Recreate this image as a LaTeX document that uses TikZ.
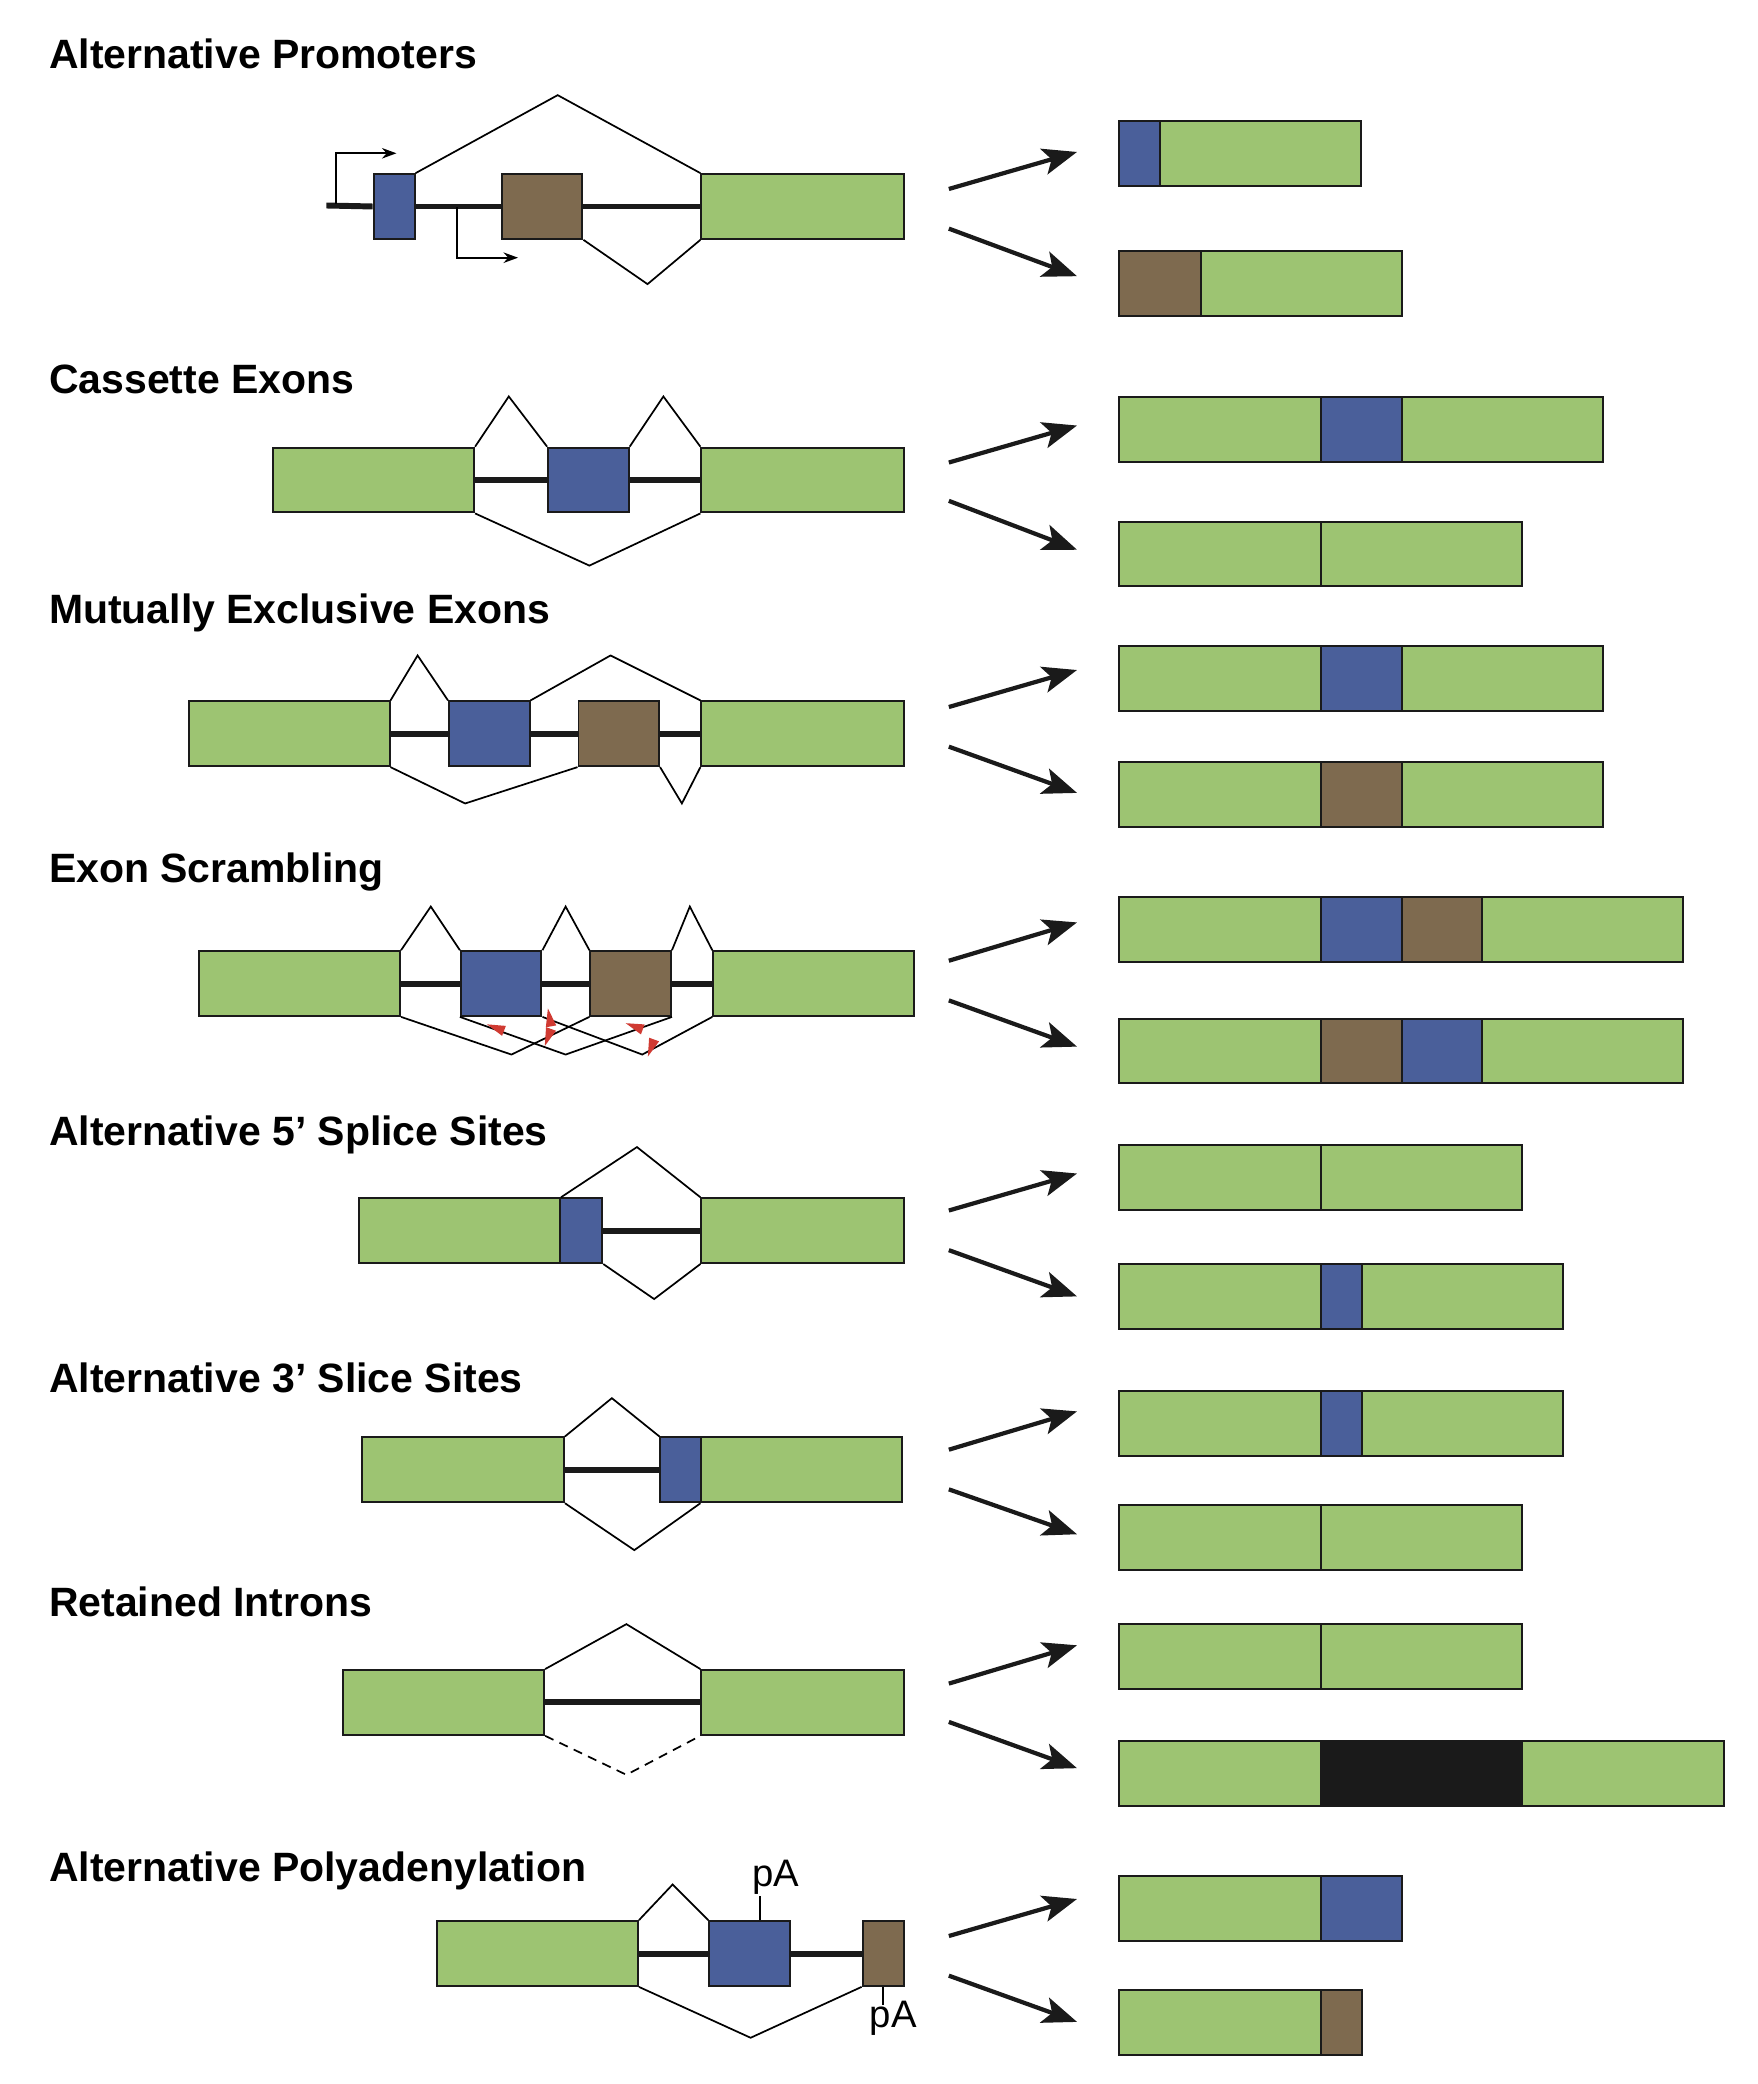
\documentclass[tikz,border=0pt]{standalone}
\usepackage{fontspec}
\setmainfont{Liberation Sans}
\usetikzlibrary{arrows.meta}
\definecolor{exgreen}{HTML}{9DC472}
\definecolor{exblue}{HTML}{4A5F9A}
\definecolor{exbrown}{HTML}{7E6A4F}
\definecolor{exblack}{HTML}{1A1A1A}
\definecolor{tipred}{HTML}{D03A32}
\tikzset{
  exon/.style={draw=exblack, line width=1.5pt, inner sep=0pt, minimum height=49pt, anchor=north west},
  intron/.style={exblack, line width=4.5pt},
  splice/.style={black, line width=1.3pt, line join=miter},
  title/.style={font=\bfseries\fontsize{31}{33}\selectfont, anchor=base west, inner sep=0pt},
  fork/.style={exblack, line width=3.2pt, -{Stealth[length=26pt,width=20pt,inset=6pt]}},
  start/.style={black, line width=1.3pt, -{Stealth[length=11pt,width=8pt]}},
  tip/.pic={\fill[tipred] (0:8) -- (145:7) -- (215:7) -- cycle;}
}
% exon box: name, left x, right x, top y, colour
\newcommand{\ex}[5]{\node[exon, fill=#5, minimum width={(#3-#2)*1pt}] (#1) at (#2,#4) {};}
% two product arrows: top y start, top y end, bottom y start, bottom y end
\newcommand{\forks}[5]{%
  \coordinate (#1a0) at (718,#2); \coordinate (#1a1) at (815,#3);
  \coordinate (#1b0) at (718,#4); \coordinate (#1b1) at (815,#5);
  \draw[fork] (#1a0) -- (#1a1);
  \draw[fork] (#1b0) -- (#1b1);}
\begin{document}
\begin{tikzpicture}[x=1pt,y=-1pt]
\useasboundingbox (0,0) rectangle (1330,1577);

% Alternative Promoters
\node[title] (t1) at (37,52) {Alternative Promoters};
\ex{p1a}{282}{313}{131}{exblue}
\ex{p1b}{379}{440}{131}{exbrown}
\ex{p1c}{530}{683}{131}{exgreen}
\coordinate (p1s) at (247,155.5);
\draw[intron] (p1s) -- (p1a.west);
\draw[intron] (p1a.east) -- (p1b.west);
\draw[intron] (p1b.east) -- (p1c.west);
\draw[splice] (p1a.north east) -- (422,72) -- (p1c.north west);
\draw[splice] (p1b.south east) -- (490,215) -- (p1c.south west);
\coordinate (pr1) at (254,154); \coordinate (pr2) at (346,157);
\draw[start] (pr1) -- (254,116) -- (300,116);
\draw[start] (pr2) -- (346,195) -- (392,195);
\forks{f1}{143}{115}{173}{209}
\ex{q1a}{846}{877}{91}{exblue}
\ex{q1b}{877}{1029}{91}{exgreen}
\ex{q1c}{846}{908}{189}{exbrown}
\ex{q1d}{908}{1060}{189}{exgreen}

% Cassette Exons
\node[title] (t2) at (37,298) {Cassette Exons};
\ex{p2a}{206}{358}{338}{exgreen}
\ex{p2b}{414}{475}{338}{exblue}
\ex{p2c}{530}{683}{338}{exgreen}
\draw[intron] (p2a.east) -- (p2b.west);
\draw[intron] (p2b.east) -- (p2c.west);
\draw[splice] (p2a.north east) -- (385,300) -- (p2b.north west);
\draw[splice] (p2b.north east) -- (502,300) -- (p2c.north west);
\draw[splice] (p2a.south east) -- (446,428) -- (p2c.south west);
\forks{f2}{350}{322}{379}{416}
\ex{q2a}{846}{999}{300}{exgreen}
\ex{q2b}{999}{1060}{300}{exblue}
\ex{q2c}{1060}{1212}{300}{exgreen}
\ex{q2d}{846}{999}{394}{exgreen}
\ex{q2e}{999}{1151}{394}{exgreen}

% Mutually Exclusive Exons
\node[title] (t3) at (37,472) {Mutually Exclusive Exons};
\ex{p3a}{142}{294}{530}{exgreen}
\ex{p3b}{339}{400}{530}{exblue}
\ex{p3c}{437}{498}{530}{exbrown}
\ex{p3d}{530}{683}{530}{exgreen}
\draw[intron] (p3a.east) -- (p3b.west);
\draw[intron] (p3b.east) -- (p3c.west);
\draw[intron] (p3c.east) -- (p3d.west);
\draw[splice] (p3a.north east) -- (316,496) -- (p3b.north west);
\draw[splice] (p3b.north east) -- (462,496) -- (p3d.north west);
\draw[splice] (p3a.south east) -- (352,608) -- (p3c.south west);
\draw[splice] (p3c.south east) -- (516,608) -- (p3d.south west);
\forks{f3}{535}{507}{565}{600}
\ex{q3a}{846}{999}{488}{exgreen}
\ex{q3b}{999}{1060}{488}{exblue}
\ex{q3c}{1060}{1212}{488}{exgreen}
\ex{q3d}{846}{999}{576}{exgreen}
\ex{q3e}{999}{1060}{576}{exbrown}
\ex{q3f}{1060}{1212}{576}{exgreen}

% Exon Scrambling
\node[title] (t4) at (37,668) {Exon Scrambling};
\ex{p4a}{150}{302}{719}{exgreen}
\ex{p4b}{348}{409}{719}{exblue}
\ex{p4c}{446}{507}{719}{exbrown}
\ex{p4d}{539}{691}{719}{exgreen}
\draw[intron] (p4a.east) -- (p4b.west);
\draw[intron] (p4b.east) -- (p4c.west);
\draw[intron] (p4c.east) -- (p4d.west);
\draw[splice] (p4a.north east) -- (326,686) -- (p4b.north west);
\draw[splice] (p4b.north east) -- (428,686) -- (p4c.north west);
\draw[splice] (p4c.north east) -- (522,686) -- (p4d.north west);
\draw[splice] (p4a.south east) -- (387,798) -- (p4c.south west);
\draw[splice] (p4b.south west) -- (428,798) -- (p4c.south east);
\draw[splice] (p4b.south east) -- (486,798) -- (p4d.south west);
\pic[rotate=159] at (376,778) {tip};
\pic[rotate=100] at (416,771) {tip};
\pic[rotate=250] at (415,784) {tip};
\pic[rotate=160] at (481,777) {tip};
\pic[rotate=250] at (493,792) {tip};
\forks{f4}{727}{698}{757}{792}
\ex{q4a}{846}{999}{678}{exgreen}
\ex{q4b}{999}{1060}{678}{exblue}
\ex{q4c}{1060}{1121}{678}{exbrown}
\ex{q4d}{1121}{1273}{678}{exgreen}
\ex{q4e}{846}{999}{770}{exgreen}
\ex{q4f}{999}{1060}{770}{exbrown}
\ex{q4g}{1060}{1121}{770}{exblue}
\ex{q4h}{1121}{1273}{770}{exgreen}

% Alternative 5' Splice Sites
\node[title] (t5) at (37,867) {Alternative 5’ Splice Sites};
\ex{p5a}{271}{423}{906}{exgreen}
\ex{p5b}{423}{455}{906}{exblue}
\ex{p5c}{530}{683}{906}{exgreen}
\draw[intron] (p5b.east) -- (p5c.west);
\draw[splice] (p5a.north east) -- (482,868) -- (p5c.north west);
\draw[splice] (p5b.south east) -- (495,983) -- (p5c.south west);
\forks{f5}{916}{888}{946}{981}
\ex{q5a}{846}{999}{866}{exgreen}
\ex{q5b}{999}{1151}{866}{exgreen}
\ex{q5c}{846}{999}{956}{exgreen}
\ex{q5d}{999}{1030}{956}{exblue}
\ex{q5e}{1030}{1182}{956}{exgreen}

% Alternative 3' Slice Sites
\node[title] (t6) at (37,1054) {Alternative 3’ Slice Sites};
\ex{p6a}{273}{426}{1087}{exgreen}
\ex{p6b}{499}{530}{1087}{exblue}
\ex{p6c}{530}{682}{1087}{exgreen}
\draw[intron] (p6a.east) -- (p6b.west);
\draw[splice] (p6a.north east) -- (463,1058) -- (p6b.north west);
\draw[splice] (p6a.south east) -- (480,1173) -- (p6c.south west);
\forks{f6}{1097}{1068}{1127}{1161}
\ex{q6a}{846}{999}{1052}{exgreen}
\ex{q6b}{999}{1030}{1052}{exblue}
\ex{q6c}{1030}{1182}{1052}{exgreen}
\ex{q6d}{846}{999}{1138}{exgreen}
\ex{q6e}{999}{1151}{1138}{exgreen}

% Retained Introns
\node[title] (t7) at (37,1223) {Retained Introns};
\ex{p7a}{259}{411}{1263}{exgreen}
\ex{p7b}{530}{683}{1263}{exgreen}
\draw[intron] (p7a.east) -- (p7b.west);
\draw[splice] (p7a.north east) -- (474,1229) -- (p7b.north west);
\draw[splice, dashed, dash pattern=on 7pt off 5pt] (p7a.south east) -- (474,1343) -- (p7b.south west);
\forks{f7}{1274}{1245}{1303}{1338}
\ex{q7a}{846}{999}{1228}{exgreen}
\ex{q7b}{999}{1151}{1228}{exgreen}
\ex{q7c}{846}{999}{1317}{exgreen}
\ex{q7d}{999}{1151}{1317}{exblack}
\ex{q7e}{1151}{1304}{1317}{exgreen}

% Alternative Polyadenylation
\node[title] (t8) at (37,1424) {Alternative Polyadenylation};
\ex{p8a}{330}{482}{1453}{exgreen}
\ex{p8b}{536}{597}{1453}{exblue}
\ex{p8c}{652}{683}{1453}{exbrown}
\draw[intron] (p8a.east) -- (p8b.west);
\draw[intron] (p8b.east) -- (p8c.west);
\draw[splice] (p8a.north east) -- (509,1426) -- (p8b.north west);
\draw[splice] (p8a.south east) -- (568,1542) -- (p8c.south west);
\node[font=\fontsize{29}{31}\selectfont, inner sep=1pt, anchor=south] (pa1) at (587,1435) {pA};
\node[font=\fontsize{29}{31}\selectfont, inner sep=1pt, anchor=north] (pa2) at (676,1513) {pA};
\draw[splice] (p8b.north) ++(8,0) coordinate (pa1t) -- (pa1t |- pa1.south);
\draw[splice] (p8c.south) coordinate (pa2t) -- ++(0,14);
\forks{f8}{1465}{1437}{1495}{1530}
\ex{q8a}{846}{999}{1419}{exgreen}
\ex{q8b}{999}{1060}{1419}{exblue}
\ex{q8c}{846}{999}{1505}{exgreen}
\ex{q8d}{999}{1030}{1505}{exbrown}
\end{tikzpicture}
\end{document}
